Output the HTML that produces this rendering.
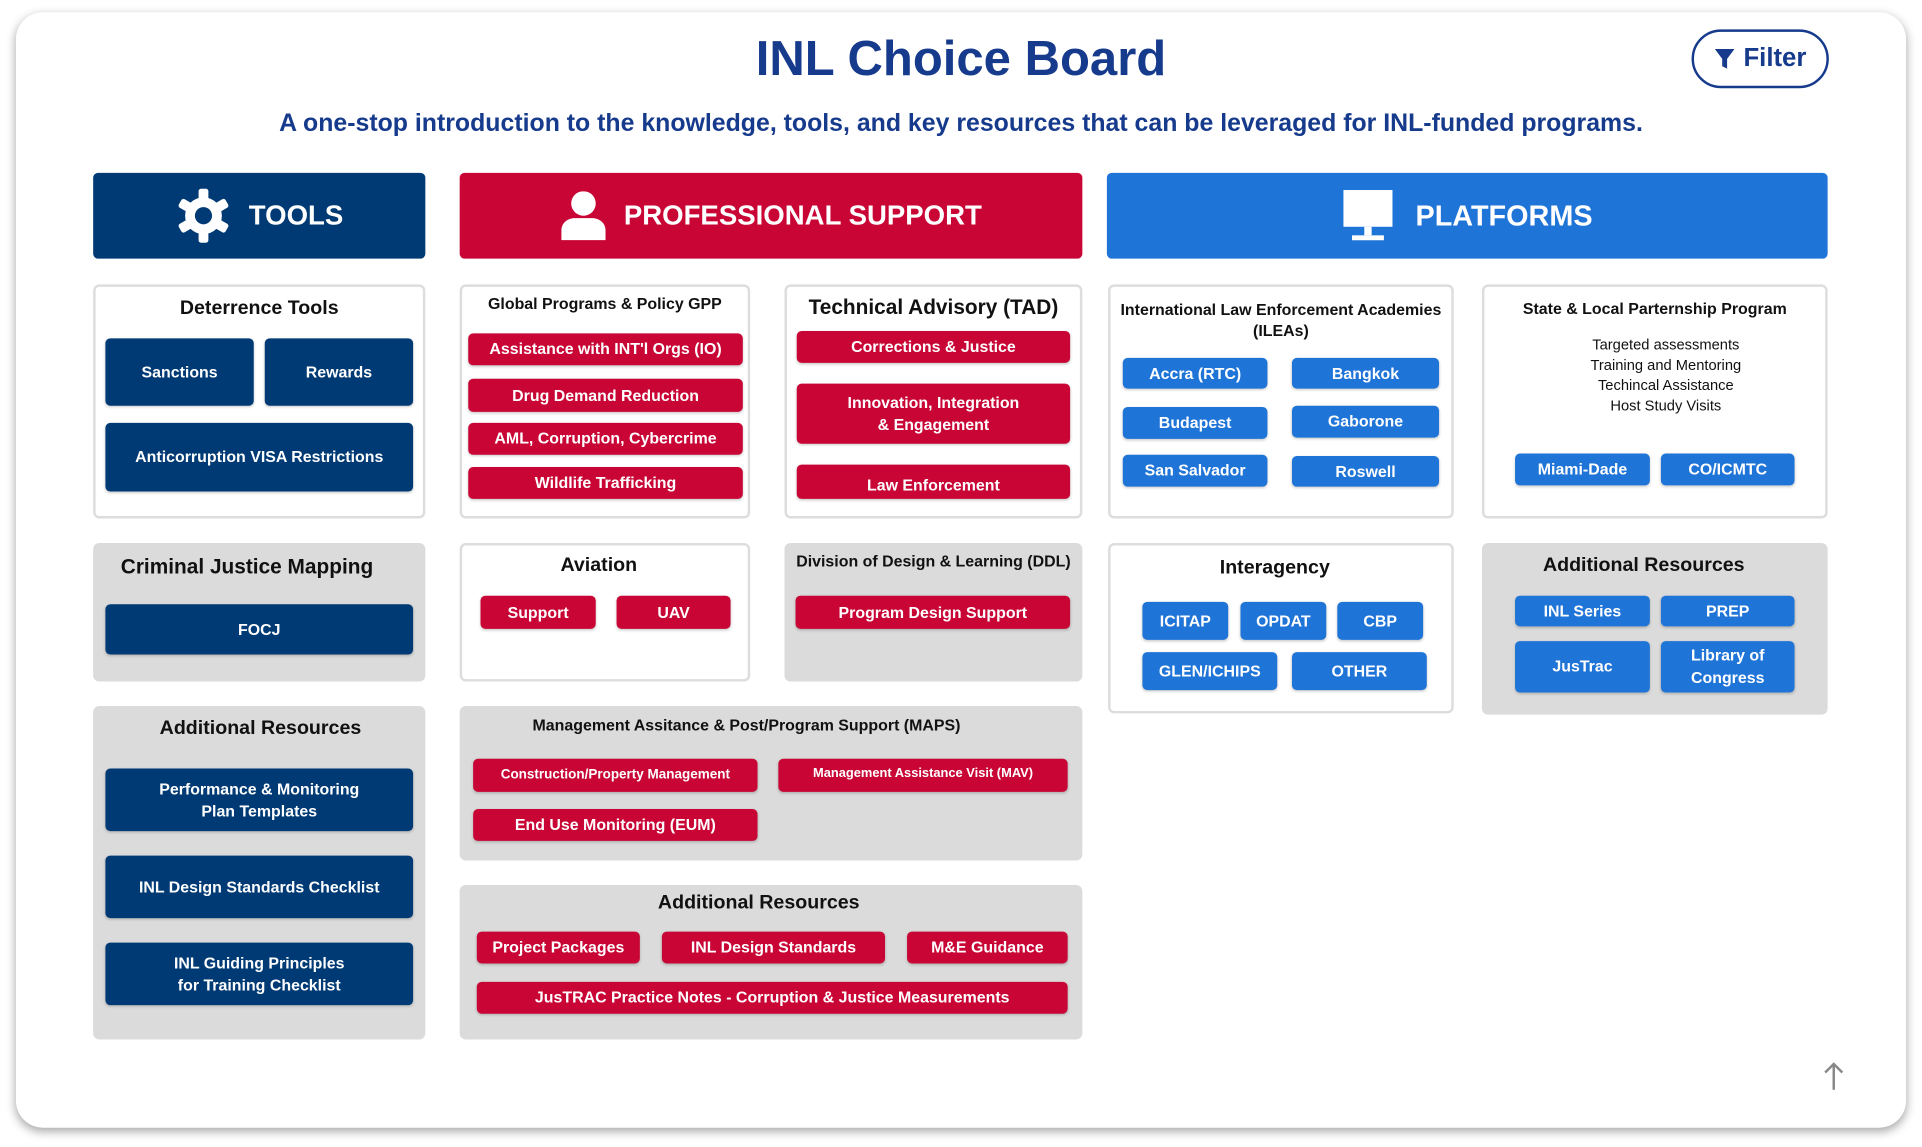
<!DOCTYPE html>
<html><head><meta charset="utf-8"><style>
html,body{margin:0;padding:0;background:#fff;width:1922px;height:1147px;overflow:hidden}
#s{position:absolute;left:0;top:0;width:1568px;height:936px;transform:scale(1.22577);transform-origin:0 0;font-family:"Liberation Sans",sans-serif}
.card{position:absolute;left:13px;top:10px;width:1542px;height:910px;background:#fff;border-radius:22px;box-shadow:0 3px 8px rgba(0,0,0,.35)}
.a{position:absolute}
.b{position:absolute;display:flex;align-items:center;justify-content:center;text-align:center;color:#fff;font-weight:bold;font-size:13px;border-radius:4px;line-height:1.35;box-shadow:0 1px 2px rgba(0,0,0,.2)}
.n{background:#003a74}.r{background:#c80535}.u{background:#1f74d7}
.w{position:absolute;background:#fff;border:2px solid #ddd;border-radius:5px;box-sizing:border-box}
.g{position:absolute;background:#dbdbdb;border-radius:5px}
.t{position:absolute;left:0;right:0;text-align:center;font-weight:bold;color:#111;font-size:16px}
.hd{position:absolute;top:141px;height:70px;border-radius:4px;color:#fff;font-weight:bold;font-size:22.5px;display:flex;align-items:center;justify-content:center}
</style></head><body><div id="s">
<div class="card"></div>
<div class="a" style="left:0;width:1568px;top:26px;text-align:center;font-size:40px;font-weight:bold;color:#163a8c">INL Choice Board</div>
<div class="a" style="left:0;width:1568px;top:90px;text-align:center;font-size:20.3px;font-weight:bold;color:#163a8c">A one-stop introduction to the knowledge, tools, and key resources that can be leveraged for INL-funded programs.</div>
<div class="a" style="left:1380px;top:24px;width:108px;height:44px;border:2px solid #163a8c;border-radius:24px;display:flex;align-items:center;justify-content:center;color:#163a8c;font-weight:bold;font-size:21px"><svg width="18" height="18" viewBox="0 0 18 18" style="margin-right:6px"><path d="M1 1h16l-6 8v8l-4-2V9z" fill="#163a8c"/></svg>Filter</div>

<div class="hd n" style="left:76px;width:271px"><svg width="46" height="46" viewBox="0 0 46 46" style="margin-right:14px"><g fill="#fff"><circle cx="23" cy="23" r="15"/><rect x="19" y="1" width="8" height="44" rx="2"/><rect x="19" y="1" width="8" height="44" rx="2" transform="rotate(60 23 23)"/><rect x="19" y="1" width="8" height="44" rx="2" transform="rotate(120 23 23)"/></g><circle cx="23" cy="23" r="7" fill="#003a74"/></svg>TOOLS</div>
<div class="hd r" style="left:375px;width:508px"><svg width="38" height="40" viewBox="0 0 38 40" style="margin-right:14px"><circle cx="19" cy="10" r="10" fill="#fff"/><path d="M1 40v-8c0-6 5-10 11-10h14c6 0 11 4 11 10v8z" fill="#fff"/></svg>PROFESSIONAL SUPPORT</div>
<div class="hd u" style="left:903px;width:588px;font-size:23.5px"><svg width="42" height="42" viewBox="0 0 42 42" style="margin-right:18px"><rect x="1" y="0" width="40" height="30" fill="#fff"/><rect x="18" y="30" width="6" height="7" fill="#fff"/><rect x="8" y="37" width="26" height="4" fill="#fff"/></svg>PLATFORMS</div>

<!-- row1 -->
<div class="w" style="left:76px;top:232px;width:271px;height:191px"><div class="t" style="top:9px">Deterrence Tools</div></div>
<div class="b n" style="left:86px;top:276px;width:121px;height:55px">Sanctions</div>
<div class="b n" style="left:216px;top:276px;width:121px;height:55px">Rewards</div>
<div class="b n" style="left:86px;top:345px;width:251px;height:56px">Anticorruption VISA Restrictions</div>

<div class="w" style="left:375px;top:232px;width:237px;height:191px"><div class="t" style="top:6px;font-size:13px">Global Programs &amp; Policy GPP</div></div>
<div class="b r" style="left:382px;top:272px;width:224px;height:26px">Assistance with INT'l Orgs (IO)</div>
<div class="b r" style="left:382px;top:309px;width:224px;height:27px">Drug Demand Reduction</div>
<div class="b r" style="left:382px;top:345px;width:224px;height:26px">AML, Corruption, Cybercrime</div>
<div class="b r" style="left:382px;top:381px;width:224px;height:26px">Wildlife Trafficking</div>

<div class="w" style="left:640px;top:232px;width:243px;height:191px"><div class="t" style="top:7px;font-size:17px">Technical Advisory (TAD)</div></div>
<div class="b r" style="left:650px;top:270px;width:223px;height:26px">Corrections &amp; Justice</div>
<div class="b r" style="left:650px;top:313px;width:223px;height:49px">Innovation, Integration<br>&amp; Engagement</div>
<div class="b r" style="left:650px;top:379px;width:223px;height:28px;padding-top:6px;box-sizing:border-box">Law Enforcement</div>

<div class="w" style="left:904px;top:232px;width:282px;height:191px"><div class="t" style="top:10px;font-size:13px;line-height:17px">International Law Enforcement Academies<br>(ILEAs)</div></div>
<div class="b u" style="left:916px;top:292px;width:118px;height:25px">Accra (RTC)</div>
<div class="b u" style="left:1054px;top:292px;width:120px;height:25px">Bangkok</div>
<div class="b u" style="left:916px;top:332px;width:118px;height:26px">Budapest</div>
<div class="b u" style="left:1054px;top:331px;width:120px;height:26px">Gaborone</div>
<div class="b u" style="left:916px;top:371px;width:118px;height:26px">San Salvador</div>
<div class="b u" style="left:1054px;top:372px;width:120px;height:25px">Roswell</div>

<div class="w" style="left:1209px;top:232px;width:282px;height:191px"><div class="t" style="top:10px;font-size:13px">State &amp; Local Parternship Program</div>
<div class="t" style="top:39px;font-size:12px;font-weight:normal;line-height:16.5px;left:18px">Targeted assessments<br>Training and Mentoring<br>Techincal Assistance<br>Host Study Visits</div></div>
<div class="b u" style="left:1236px;top:370px;width:110px;height:26px">Miami-Dade</div>
<div class="b u" style="left:1355px;top:370px;width:109px;height:26px">CO/ICMTC</div>

<!-- row2 -->
<div class="g" style="left:76px;top:443px;width:271px;height:113px"><div class="t" style="top:10px;font-size:17px;right:20px">Criminal Justice Mapping</div></div>
<div class="b n" style="left:86px;top:493px;width:251px;height:41px">FOCJ</div>

<div class="w" style="left:375px;top:443px;width:237px;height:113px"><div class="t" style="top:8px;right:10px">Aviation</div></div>
<div class="b r" style="left:392px;top:486px;width:94px;height:27px">Support</div>
<div class="b r" style="left:503px;top:486px;width:93px;height:27px">UAV</div>

<div class="g" style="left:640px;top:443px;width:243px;height:113px"><div class="t" style="top:7px;font-size:13px">Division of Design &amp; Learning (DDL)</div></div>
<div class="b r" style="left:649px;top:486px;width:224px;height:27px">Program Design Support</div>

<div class="w" style="left:904px;top:443px;width:282px;height:139px"><div class="t" style="top:10px;font-size:16px;right:10px">Interagency</div></div>
<div class="b u" style="left:932px;top:491px;width:70px;height:31px">ICITAP</div>
<div class="b u" style="left:1012px;top:491px;width:70px;height:31px">OPDAT</div>
<div class="b u" style="left:1091px;top:491px;width:70px;height:31px">CBP</div>
<div class="b u" style="left:932px;top:532px;width:110px;height:31px">GLEN/ICHIPS</div>
<div class="b u" style="left:1054px;top:532px;width:110px;height:31px">OTHER</div>

<div class="g" style="left:1209px;top:443px;width:282px;height:140px"><div class="t" style="top:10px;font-size:16px;right:18px">Additional Resources</div></div>
<div class="b u" style="left:1236px;top:486px;width:110px;height:25px">INL Series</div>
<div class="b u" style="left:1355px;top:486px;width:109px;height:25px">PREP</div>
<div class="b u" style="left:1236px;top:523px;width:110px;height:42px">JusTrac</div>
<div class="b u" style="left:1355px;top:523px;width:109px;height:42px">Library of<br>Congress</div>

<!-- row3 -->
<div class="g" style="left:76px;top:576px;width:271px;height:272px"><div class="t" style="top:10px;font-size:16px;right:-2px">Additional Resources</div></div>
<div class="b n" style="left:86px;top:627px;width:251px;height:51px">Performance &amp; Monitoring<br>Plan Templates</div>
<div class="b n" style="left:86px;top:698px;width:251px;height:51px">INL Design Standards Checklist</div>
<div class="b n" style="left:86px;top:769px;width:251px;height:51px">INL Guiding Principles<br>for Training Checklist</div>

<div class="g" style="left:375px;top:576px;width:508px;height:126px"><div class="t" style="top:8px;font-size:13px;right:40px">Management Assitance &amp; Post/Program Support (MAPS)</div></div>
<div class="b r" style="left:386px;top:619px;width:232px;height:27px;font-size:11px">Construction/Property Management</div>
<div class="b r" style="left:635px;top:619px;width:236px;height:27px;font-size:10.5px;padding-bottom:2px;box-sizing:border-box">Management Assistance Visit (MAV)</div>
<div class="b r" style="left:386px;top:660px;width:232px;height:26px">End Use Monitoring (EUM)</div>

<div class="g" style="left:375px;top:722px;width:508px;height:126px"><div class="t" style="top:6px;font-size:16px;right:20px">Additional Resources</div></div>
<div class="b r" style="left:389px;top:760px;width:133px;height:26px">Project Packages</div>
<div class="b r" style="left:540px;top:760px;width:182px;height:26px">INL Design Standards</div>
<div class="b r" style="left:740px;top:760px;width:131px;height:26px">M&amp;E Guidance</div>
<div class="b r" style="left:389px;top:801px;width:482px;height:26px">JusTRAC Practice Notes - Corruption &amp; Justice Measurements</div>

<svg class="a" style="left:1486px;top:866px" width="20" height="24" viewBox="0 0 20 24"><path d="M10 23V2M3 9l7-7 7 7" stroke="#888" stroke-width="2" fill="none"/></svg>
</div></body></html>
